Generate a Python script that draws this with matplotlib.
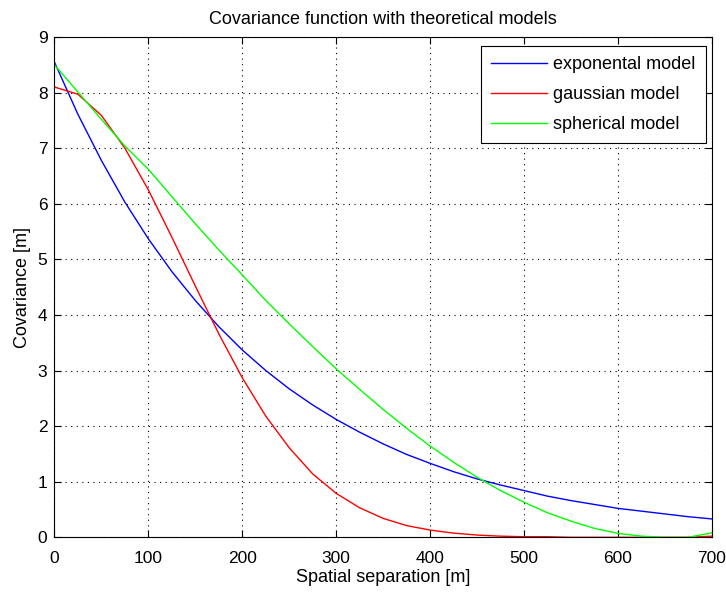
import numpy as np
import matplotlib
matplotlib.use("Agg")
import matplotlib.pyplot as plt

plt.rcParams['font.family'] = ['Liberation Sans', 'DejaVu Sans']

# lag distances [m]
lag = [0, 25, 50, 75, 100, 125, 150, 175, 200, 225, 250, 275, 300, 325, 350,
       375, 400, 425, 450, 475, 500, 525, 550, 575, 600, 625, 650, 675, 700]

cov_exp = [8.55, 7.61, 6.78, 6.03, 5.37, 4.78, 4.26, 3.79, 3.37, 3.00, 2.67,
           2.38, 2.12, 1.89, 1.68, 1.49, 1.33, 1.18, 1.05, 0.94, 0.84, 0.74,
           0.66, 0.59, 0.52, 0.47, 0.42, 0.37, 0.33]

cov_gau = [8.10, 7.97, 7.59, 7.00, 6.25, 5.40, 4.52, 3.66, 2.87, 2.18, 1.61,
           1.14, 0.79, 0.53, 0.34, 0.21, 0.13, 0.075, 0.04, 0.02, 0.01, 0.01,
           0.0, 0.0, 0.0, 0.0, 0.0, 0.0, 0.02]

cov_sph = [8.50, 8.01, 7.52, 7.04, 6.62, 6.13, 5.64, 5.17, 4.72, 4.26, 3.84,
           3.43, 3.03, 2.66, 2.30, 1.96, 1.64, 1.35, 1.08, 0.84, 0.63, 0.44,
           0.29, 0.16, 0.07, 0.02, 0.0, 0.0, 0.08]

fig = plt.figure(figsize=(7.26, 5.96), dpi=100)
ax = fig.add_axes([0.0749, 0.0985, 0.9058, 0.8395])

ax.plot(lag, cov_exp, color=(0, 0, 1), lw=1.0, label='exponental model')
ax.plot(lag, cov_gau, color=(1, 0, 0), lw=1.0, label='gaussian model')
ax.plot(lag, cov_sph, color=(0, 1, 0), lw=1.0, label='spherical model')

ax.set_xlim(0, 700)
ax.set_ylim(0, 9)
ax.set_xticks(np.arange(0, 701, 100))
ax.set_yticks(np.arange(0, 10, 1))
ax.grid(True, color='black', linestyle=(0, (1, 4)), linewidth=0.8)
ax.tick_params(direction='in', top=True, right=True, length=5, labelsize=12.5,
               pad=5)
ax.tick_params(axis='x', pad=10)
for s in ax.spines.values():
    s.set_linewidth(0.8)

ax.set_title('Covariance function with theoretical models', fontsize=13, pad=9)
ax.set_xlabel('Spatial separation [m]', fontsize=13, labelpad=2)
ax.set_ylabel('Covariance [m]', fontsize=13, labelpad=5)

leg = ax.legend(loc='upper right', bbox_to_anchor=(0.9904, 0.982),
                borderaxespad=0, fontsize=13, fancybox=False, framealpha=1,
                edgecolor='black', handlelength=3.1, handletextpad=0.35,
                borderpad=0.55, labelspacing=0.72)
leg.get_frame().set_linewidth(0.8)

fig.savefig('out.png', dpi=100)
